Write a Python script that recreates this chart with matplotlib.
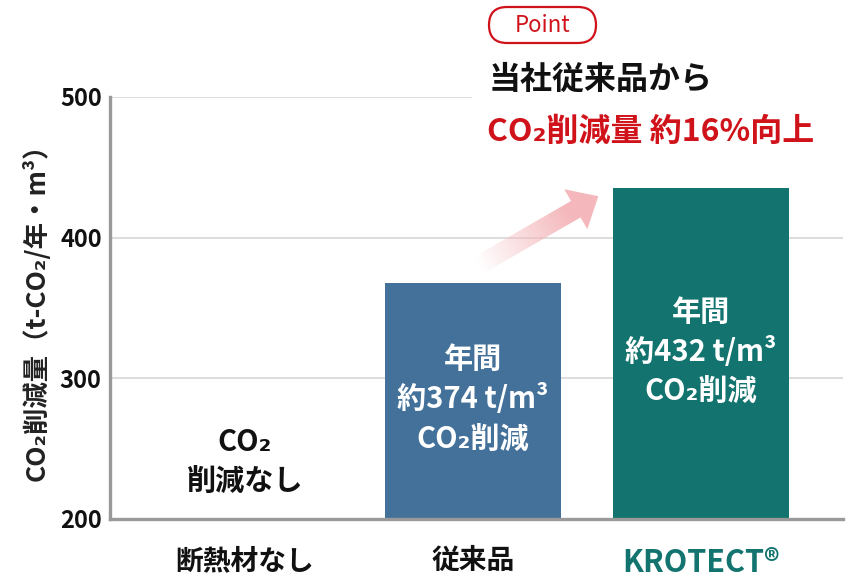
import numpy as np
import matplotlib
matplotlib.use("Agg")
import matplotlib.pyplot as plt
from matplotlib.patches import Polygon, FancyBboxPatch, Rectangle

plt.rcParams['font.family'] = ['Noto Sans CJK JP', 'DejaVu Sans']

# ---- data ----
categories = ['断熱材なし', '従来品', 'KROTECT®']
values = [0, 368, 435]
bar_labels = ['CO₂\n削減なし', '年間\n約374 t/m³\nCO₂削減', '年間\n約432 t/m³\nCO₂削減']
bar_colors = ['#ffffff', '#44719a', '#12736f']
label_colors = ['#111111', '#ffffff', '#ffffff']
tick_colors = ['#111111', '#111111', '#12736f']
yticks = [200, 300, 400, 500]
ylabel = 'CO₂削減量（t-CO₂/年・m³）'
point_text = 'Point'
title1 = '当社従来品から'
title2 = 'CO₂削減量 約16%向上'

W, H = 868, 584
fig = plt.figure(figsize=(W / 100, H / 100), dpi=100)
ax = fig.add_axes([110 / W, 1 - 519 / H, (843 - 110) / W, (519 - 97) / H])

x = np.arange(len(categories))
ax.bar(x, values, width=0.772, color=bar_colors, zorder=2)
ax.set_xlim(-0.592, 2.623)
ax.set_ylim(200, 500)
ax.set_yticks(yticks)
ax.set_yticklabels([str(v) for v in yticks], fontsize=17, fontweight='bold', color='#111111')
ax.set_xticks(x)
ax.set_xticklabels(categories, fontsize=20, fontweight='bold')
for t, c in zip(ax.get_xticklabels(), tick_colors):
    t.set_color(c)
ax.get_xticklabels()[2].set_fontsize(22)
ax.tick_params(axis='both', length=0)
ax.tick_params(axis='y', pad=6)
ax.tick_params(axis='x', pad=20)
ax.grid(axis='y', color='#dddddd', linewidth=1.4, zorder=1)
ax.set_axisbelow(True)
for s in ['top', 'right']:
    ax.spines[s].set_visible(False)
for s in ['left', 'bottom']:
    ax.spines[s].set_color('#999999')
    ax.spines[s].set_linewidth(2.4)
    ax.spines[s].set_zorder(3)

for i, (v, lab, c) in enumerate(zip(values, bar_labels, label_colors)):
    ypos = (200 + v) / 2 + 1.5 if v > 200 else 241
    ax.text(i, ypos, lab, ha='center', va='center', fontsize=21, fontweight='bold',
            color=c, linespacing=1.38, zorder=4)

fig.text(37 / W, 1 - 306 / H, ylabel, rotation=90, ha='center', va='center',
         fontsize=19, fontweight='bold', color='#222222')

# ---- overlay for decorations ----
ov = fig.add_axes([0, 0, 1, 1], zorder=5)
ov.set_xlim(0, W)
ov.set_ylim(H, 0)
ov.axis('off')
ov.patch.set_alpha(0)

ov.add_patch(Rectangle((472, 50), 390, 115, facecolor='white', edgecolor='none'))

ov.add_patch(FancyBboxPatch((489, 7), 107, 36, boxstyle='round,pad=0,rounding_size=18',
                            facecolor='white', edgecolor='#d0121b', linewidth=1.6))
ov.text(542.5, 25.5, point_text, ha='center', va='center', fontsize=16, color='#d0121b')

ov.text(489, 80, title1, ha='left', va='center', fontsize=23, fontweight='bold', color='#111111')
ov.text(487, 132, title2, ha='left', va='center', fontsize=23, fontweight='bold', color='#d0121b')

# gradient arrow
ang = np.deg2rad(30)
u = np.array([np.cos(ang), -np.sin(ang)])
n = np.array([np.sin(ang), np.cos(ang)])
M = np.array([575.8, 209.2])
tail = M - 112 * u
sw, hw, hl = 9.5, 23, 26
pts = [tail - sw * n, M - sw * n, M - hw * n, M + hl * u, M + hw * n, M + sw * n, tail + sw * n]
poly = Polygon(pts, closed=True, facecolor='none', edgecolor='none')
ov.add_patch(poly)
x0, x1, y0, y1 = 465, 610, 180, 285
gx, gy = np.meshgrid(np.linspace(x0, x1, 300), np.linspace(y0, y1, 220))
proj = (gx - tail[0]) * u[0] + (gy - tail[1]) * u[1]
alpha = np.clip(proj / 105.0, 0, 1)
img = np.zeros(gx.shape + (4,))
img[..., 0] = 0.957
img[..., 1] = 0.718
img[..., 2] = 0.737
img[..., 3] = alpha
im = ov.imshow(img, extent=(x0, x1, y1, y0), origin='upper', aspect='auto', interpolation='bilinear')
im.set_clip_path(poly)
ov.set_xlim(0, W)
ov.set_ylim(H, 0)

fig.savefig('out.png', dpi=100)
